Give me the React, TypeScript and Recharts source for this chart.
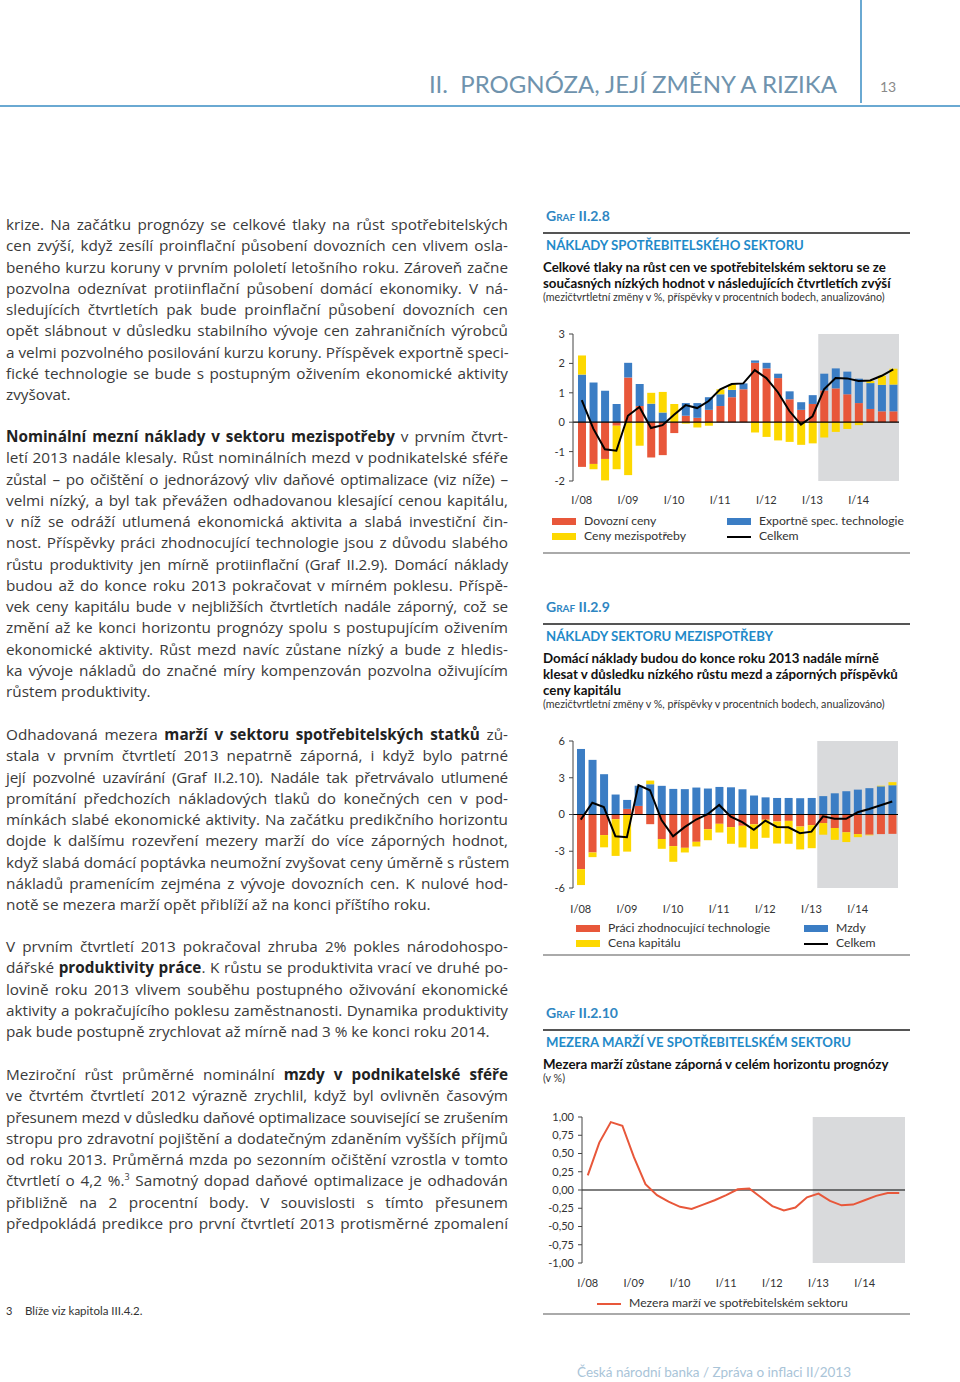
import React from 'react';
import {
    ComposedChart,
    Bar,
    Line,
    XAxis,
    YAxis,
    ReferenceArea,
    ReferenceLine,
} from 'recharts';

const quarters = [
    'I/08', 'II/08', 'III/08', 'IV/08',
    'I/09', 'II/09', 'III/09', 'IV/09',
    'I/10', 'II/10', 'III/10', 'IV/10',
    'I/11', 'II/11', 'III/11', 'IV/11',
    'I/12', 'II/12', 'III/12', 'IV/12',
    'I/13', 'II/13', 'III/13', 'IV/13',
    'I/14', 'II/14', 'III/14', 'IV/14',
];

// Graf II.2.8
const dovozniCeny = [-1.52, -1.42, -1.25, -0.12, 1.52, 0.55, -1.2, -1.12, -0.37, 0.22, 0.15, 0.42, 0.55, 0.85, 1.12, 2.02, 1.83, 1.5, 0.78, 0.42, 0.62, 1.08, 1.15, 0.95, 0.65, 0.45, 0.37, 0.37];
const exportTech = [1.62, 1.35, 1.07, 0.62, 0.5, 0.75, 0.63, 0.33, 0, 0.43, 0.5, 0.43, 0.4, 0.25, 0.2, 0.08, 0.19, 0.15, 0.27, 0.26, 0.3, 0.57, 0.68, 0.77, 0.83, 0.88, 0.9, 0.91];
const cenyMezispotreby = [0.65, -0.18, -0.73, -1.48, -1.8, -0.8, 0.37, 0.7, 0.62, -0.05, -0.18, -0.12, 0.17, 0.18, 0, -0.35, -0.5, -0.62, -0.67, -0.77, -0.72, -0.52, -0.33, -0.23, -0.1, 0.07, 0.31, 0.54];
const celkem1 = [0.75, -0.22, -0.92, -0.97, 0.22, 0.52, -0.2, -0.1, 0.25, 0.58, 0.48, 0.72, 1.12, 1.3, 1.32, 1.77, 1.5, 1.02, 0.38, -0.08, 0.2, 1.12, 1.5, 1.49, 1.4, 1.42, 1.58, 1.8];

// Graf II.2.9
const praciTech = [-4.46, -3.1, -1.68, -0.38, 0.46, 0.7, -0.79, -2.0, -2.58, -2.72, -2.23, -1.2, -0.76, -1.03, -0.92, -0.8, -0.43, -0.57, -0.52, -0.98, -0.87, -0.7, -1.1, -1.45, -1.6, -1.65, -1.6, -1.58];
const mzdy = [5.35, 4.46, 3.29, 1.63, 0.73, 1.65, 2.47, 2.34, 2.09, 2.07, 2.2, 2.12, 2.25, 2.22, 2.06, 1.55, 1.4, 1.35, 1.35, 1.33, 1.35, 1.5, 1.73, 1.9, 2.03, 2.15, 2.3, 2.39];
const cenaKapitalu = [-1.3, -0.38, -1.0, -3.0, -3.03, 0, 0.3, -0.8, -1.28, -0.38, -0.38, -0.9, -0.71, -1.36, -1.77, -2.0, -1.47, -1.8, -1.87, -1.87, -1.88, -0.95, -0.97, -0.8, -0.25, -0.05, 0.05, 0.25];
const celkem2 = [-0.42, 0.96, 0.6, -1.77, -1.85, 2.4, 1.98, -0.46, -1.78, -1.03, -0.41, 0.02, 0.78, -0.17, -0.63, -1.25, -0.5, -1.02, -1.04, -1.52, -1.4, -0.15, -0.35, -0.35, 0.18, 0.45, 0.75, 1.06];

// Graf II.2.10
const mezeraMarzi = [0.2, 0.65, 0.93, 0.88, 0.45, 0.08, -0.07, -0.16, -0.23, -0.26, -0.2, -0.14, -0.07, 0.01, 0.02, -0.1, -0.22, -0.28, -0.24, -0.1, -0.05, -0.15, -0.21, -0.2, -0.14, -0.08, -0.04, -0.04];

const ticks1 = [-2, -1, 0, 1, 2, 3];
const ticks2 = [-6, -3, 0, 3, 6];
const ticks3 = [-1, -0.75, -0.5, -0.25, 0, 0.25, 0.5, 0.75, 1];

const RED = '#e8573a';
const BLUE = '#3b7dc4';
const YELLOW = '#fdd800';
const SHADE = '#d9dadc';
const BODY_FONT = '"Open Sans", sans-serif';
const SIDE_FONT = 'Lato, "Open Sans", sans-serif';

const data1 = quarters.map((q, i) => ({
    q,
    dovozni: dovozniCeny[i],
    exportni: exportTech[i],
    mezi: cenyMezispotreby[i],
    celkem: celkem1[i],
}));
const data2 = quarters.map((q, i) => ({
    q,
    prace: praciTech[i],
    mzdy: mzdy[i],
    kapital: cenaKapitalu[i],
    celkem: celkem2[i],
}));
const data3 = quarters.map((q, i) => ({ q, mezera: mezeraMarzi[i] }));

const tickStyle = { fontSize: 11, fill: '#333', fontFamily: SIDE_FONT };

function TextLine({ children, justify = true }: { children: React.ReactNode; justify?: boolean }) {
    return (
        <div
            style={{
                height: 21.25,
                lineHeight: '21.25px',
                whiteSpace: 'nowrap',
                textAlign: justify ? 'justify' : 'left',
                textAlignLast: justify ? 'justify' : 'left',
            }}
        >
            {children}
        </div>
    );
}

function Para({ top, lines, lastJustified = false }: { top: number; lines: React.ReactNode[]; lastJustified?: boolean }) {
    return (
        <div
            style={{
                position: 'absolute',
                left: 6,
                top,
                width: 502,
                fontSize: 15.3,
                color: '#3a3a3a',
                fontFamily: BODY_FONT,
            }}
        >
            {lines.map((l, i) => (
                <TextLine key={i} justify={i < lines.length - 1 || lastJustified}>
                    {l}
                </TextLine>
            ))}
        </div>
    );
}

function GrafHeader({ y, graf, title, sub, note }: { y: number; graf: string; title: string; sub: string[]; note: string }) {
    return (
        <>
            <div
                style={{
                    position: 'absolute',
                    left: 546,
                    top: y - 9,
                    fontSize: 14,
                    fontWeight: 700,
                    fontVariant: 'small-caps',
                    color: '#2f86c2',
                    lineHeight: '18px',
                }}
            >
                {graf}
            </div>
            <div style={{ position: 'absolute', left: 543, top: y + 16, width: 367, height: 1.5, background: '#555' }} />
            <div
                style={{
                    position: 'absolute',
                    left: 546,
                    top: y + 20,
                    fontSize: 13.2,
                    fontWeight: 700,
                    color: '#1f8ac9',
                    lineHeight: '18px',
                    whiteSpace: 'nowrap',
                }}
            >
                {title}
            </div>
            {sub.map((s, i) => (
                <div
                    key={i}
                    style={{
                        position: 'absolute',
                        left: 543,
                        top: y + 43 + i * 16,
                        fontSize: 13.3,
                        fontWeight: 700,
                        color: '#111',
                        lineHeight: '16px',
                        whiteSpace: 'nowrap',
                    }}
                >
                    {s}
                </div>
            ))}
            <div
                style={{
                    position: 'absolute',
                    left: 543,
                    top: y + 43 + sub.length * 16 - 1,
                    fontSize: 10.7,
                    color: '#333',
                    lineHeight: '14px',
                    whiteSpace: 'nowrap',
                }}
            >
                {note}
            </div>
        </>
    );
}

function Swatch({ color, line = false }: { color: string; line?: boolean }) {
    return (
        <span
            style={{
                display: 'inline-block',
                width: 24,
                height: line ? 2 : 7,
                background: color,
                marginRight: 8,
                verticalAlign: 'middle',
            }}
        />
    );
}

function LegendItem({ x, y, color, label, line = false }: { x: number; y: number; color: string; label: string; line?: boolean }) {
    return (
        <div
            style={{
                position: 'absolute',
                left: x,
                top: y - 8,
                height: 16,
                lineHeight: '16px',
                fontSize: 12.2,
                color: '#333',
                whiteSpace: 'nowrap',
            }}
        >
            <Swatch color={color} line={line} />
            {label}
        </div>
    );
}

function Rule({ y }: { y: number }) {
    return <div style={{ position: 'absolute', left: 543, top: y, width: 367, height: 2, background: '#aaa' }} />;
}

function Chart1() {
    return (
        <div style={{ position: 'absolute', left: 540, top: 320 }}>
            <ComposedChart
                width={380}
                height={200}
                data={data1}
                stackOffset="sign"
                margin={{ top: 14, right: 21, bottom: 9, left: 0 }}
            >
                <ReferenceArea x1="II/13" x2="IV/14" fill={SHADE} fillOpacity={1} stroke="none" ifOverflow="visible" />
                <XAxis
                    dataKey="q"
                    interval={3}
                    axisLine={false}
                    tickLine={false}
                    tick={tickStyle}
                    tickMargin={9}
                    height={30}
                    padding={{ left: 3, right: 0 }}
                />
                <YAxis
                    type="number"
                    domain={[-2, 3]}
                    ticks={ticks1}
                    width={33}
                    tick={tickStyle}
                    tickSize={4}
                    tickMargin={4}
                    stroke="#444"
                    interval={0}
                />
                <Bar dataKey="dovozni" stackId="a" fill={RED} barSize={8} isAnimationActive={false} />
                <Bar dataKey="exportni" stackId="a" fill={BLUE} barSize={8} isAnimationActive={false} />
                <Bar dataKey="mezi" stackId="a" fill={YELLOW} barSize={8} isAnimationActive={false} />
                <ReferenceLine y={0} stroke="#000" strokeWidth={1.2} />
                <Line dataKey="celkem" stroke="#000" strokeWidth={2} dot={false} type="linear" isAnimationActive={false} />
            </ComposedChart>
        </div>
    );
}

function Chart2() {
    return (
        <div style={{ position: 'absolute', left: 540, top: 720 }}>
            <ComposedChart
                width={380}
                height={205}
                data={data2}
                stackOffset="sign"
                margin={{ top: 21, right: 22, bottom: 7, left: 0 }}
            >
                <ReferenceArea x1="II/13" x2="IV/14" fill={SHADE} fillOpacity={1} stroke="none" ifOverflow="visible" />
                <XAxis
                    dataKey="q"
                    interval={3}
                    axisLine={false}
                    tickLine={false}
                    tick={tickStyle}
                    tickMargin={11}
                    height={30}
                    padding={{ left: 2, right: 0 }}
                />
                <YAxis
                    type="number"
                    domain={[-6, 6]}
                    ticks={ticks2}
                    width={33}
                    tick={tickStyle}
                    tickSize={4}
                    tickMargin={4}
                    stroke="#444"
                    interval={0}
                />
                <Bar dataKey="prace" stackId="a" fill={RED} barSize={8} isAnimationActive={false} />
                <Bar dataKey="mzdy" stackId="a" fill={BLUE} barSize={8} isAnimationActive={false} />
                <Bar dataKey="kapital" stackId="a" fill={YELLOW} barSize={8} isAnimationActive={false} />
                <ReferenceLine y={0} stroke="#000" strokeWidth={1.2} />
                <Line dataKey="celkem" stroke="#000" strokeWidth={2} dot={false} type="linear" isAnimationActive={false} />
            </ComposedChart>
        </div>
    );
}

function Chart3() {
    return (
        <div style={{ position: 'absolute', left: 540, top: 1100 }}>
            <ComposedChart
                width={380}
                height={200}
                data={data3}
                margin={{ top: 17, right: 15, bottom: 7, left: 0 }}
            >
                <ReferenceArea x1="I/13" x2="IV/14" fill={SHADE} fillOpacity={1} stroke="none" ifOverflow="visible" />
                <XAxis
                    dataKey="q"
                    scale="band"
                    interval={3}
                    axisLine={false}
                    tickLine={false}
                    tick={tickStyle}
                    tickMargin={10}
                    height={30}
                />
                <YAxis
                    type="number"
                    domain={[-1, 1]}
                    ticks={ticks3}
                    width={42}
                    tick={tickStyle}
                    tickSize={4}
                    tickMargin={4}
                    stroke="#444"
                    interval={0}
                    tickFormatter={(v: number) => v.toFixed(2).replace('.', ',')}
                />
                <ReferenceLine y={0} stroke="#000" strokeWidth={1.2} />
                <Line dataKey="mezera" stroke={RED} strokeWidth={2} dot={false} type="linear" isAnimationActive={false} />
            </ComposedChart>
        </div>
    );
}

export default function App() {
    const b = (t: string) => <b style={{ color: '#222' }}>{t}</b>;
    const tight = (t: string) => <span style={{ letterSpacing: -0.2 }}>{t}</span>;
    return (
        <div
            style={{
                position: 'absolute',
                left: 0,
                top: 0,
                width: 960,
                height: 1382,
                background: '#fff',
                fontFamily: SIDE_FONT,
                overflow: 'hidden',
            }}
        >
            {/* page header */}
            <div
                style={{
                    position: 'absolute',
                    right: 960 - 837,
                    top: 69,
                    fontSize: 24,
                    color: '#6f93ad',
                    whiteSpace: 'nowrap',
                    lineHeight: '30px',
                }}
            >
                II.&nbsp; PROGNÓZA, JEJÍ ZMĚNY A RIZIKA
            </div>
            <div style={{ position: 'absolute', left: 860, top: 0, width: 1.5, height: 103, background: '#6aa9d2' }} />
            <div style={{ position: 'absolute', left: 880, top: 78, fontSize: 14, color: '#8a8a8a' }}>13</div>
            <div style={{ position: 'absolute', left: 0, top: 105, width: 960, height: 2, background: '#6aa9d2' }} />

            {/* left column text */}
            <Para
                top={214}
                lines={[
                    'krize. Na začátku prognózy se celkové tlaky na růst spotřebitelských',
                    'cen zvýší, když zesílí proinflační působení dovozních cen vlivem osla-',
                    'beného kurzu koruny v prvním pololetí letošního roku. Zároveň začne',
                    'pozvolna odeznívat protiinflační působení domácí ekonomiky. V ná-',
                    'sledujících čtvrtletích pak bude proinflační působení dovozních cen',
                    'opět slábnout v důsledku stabilního vývoje cen zahraničních výrobců',
                    'a velmi pozvolného posilování kurzu koruny. Příspěvek exportně speci-',
                    'fické technologie se bude s postupným oživením ekonomické aktivity',
                    'zvyšovat.',
                ]}
            />
            <Para
                top={426}
                lines={[
                    <>{b('Nominální mezní náklady v sektoru mezispotřeby')} v prvním čtvrt-</>,
                    'letí 2013 nadále klesaly. Růst nominálních mezd v podnikatelské sféře',
                    tight('zůstal – po očištění o jednorázový vliv daňové optimalizace (viz níže) –'),
                    'velmi nízký, a byl tak převážen odhadovanou klesající cenou kapitálu,',
                    'v níž se odráží utlumená ekonomická aktivita a slabá investiční čin-',
                    'nost. Příspěvky práci zhodnocující technologie jsou z důvodu slabého',
                    tight('růstu produktivity jen mírně protiinflační (Graf II.2.9). Domácí náklady'),
                    'budou až do konce roku 2013 pokračovat v mírném poklesu. Příspě-',
                    tight('vek ceny kapitálu bude v nejbližších čtvrtletích nadále záporný, což se'),
                    'změní až ke konci horizontu prognózy spolu s postupujícím oživením',
                    'ekonomické aktivity. Růst mezd navíc zůstane nízký a bude z hledis-',
                    'ka vývoje nákladů do značné míry kompenzován pozvolna oživujícím',
                    'růstem produktivity.',
                ]}
            />
            <Para
                top={724}
                lines={[
                    <>Odhadovaná mezera {b('marží v sektoru spotřebitelských statků')} zů-</>,
                    'stala v prvním čtvrtletí 2013 nepatrně záporná, i když bylo patrné',
                    tight('její pozvolné uzavírání (Graf II.2.10). Nadále tak přetrvávalo utlumené'),
                    'promítání předchozích nákladových tlaků do konečných cen v pod-',
                    'mínkách slabé ekonomické aktivity. Na začátku predikčního horizontu',
                    'dojde k dalšímu rozevření mezery marží do více záporných hodnot,',
                    'když slabá domácí poptávka neumožní zvyšovat ceny úměrně s růstem',
                    'nákladů pramenícím zejména z vývoje dovozních cen. K nulové hod-',
                    'notě se mezera marží opět přiblíží až na konci příštího roku.',
                ]}
            />
            <Para
                top={936}
                lines={[
                    'V prvním čtvrtletí 2013 pokračoval zhruba 2% pokles národohospo-',
                    <>dářské {b('produktivity práce')}. K růstu se produktivita vrací ve druhé po-</>,
                    'lovině roku 2013 vlivem souběhu postupného oživování ekonomické',
                    'aktivity a pokračujícího poklesu zaměstnanosti. Dynamika produktivity',
                    'pak bude postupně zrychlovat až mírně nad 3 % ke konci roku 2014.',
                ]}
            />
            <Para
                top={1064}
                lastJustified
                lines={[
                    <>Meziroční růst průměrné nominální {b('mzdy v podnikatelské sféře')}</>,
                    've čtvrtém čtvrtletí 2012 výrazně zrychlil, když byl ovlivněn časovým',
                    tight('přesunem mezd v důsledku daňové optimalizace související se zrušením'),
                    'stropu pro zdravotní pojištění a dodatečným zdaněním vyšších příjmů',
                    'od roku 2013. Průměrná mzda po sezonním očištění vzrostla v tomto',
                    <>čtvrtletí o 4,2 %.<span style={{ fontSize: 9, verticalAlign: 'super', lineHeight: 0 }}>3</span> Samotný dopad daňové optimalizace je odhadován</>,
                    'přibližně na 2 procentní body. V souvislosti s tímto přesunem',
                    'předpokládá predikce pro první čtvrtletí 2013 protisměrné zpomalení',
                ]}
            />

            {/* footnote */}
            <div style={{ position: 'absolute', left: 6, top: 1304, fontSize: 11, color: '#333' }}>3</div>
            <div style={{ position: 'absolute', left: 25, top: 1304, fontSize: 11.5, color: '#333' }}>
                Blíže viz kapitola III.4.2.
            </div>

            {/* Graf II.2.8 */}
            <GrafHeader
                y={216}
                graf="Graf II.2.8"
                title="NÁKLADY SPOTŘEBITELSKÉHO SEKTORU"
                sub={[
                    'Celkové tlaky na růst cen ve spotřebitelském sektoru se ze',
                    'současných nízkých hodnot v následujících čtvrtletích zvýší',
                ]}
                note="(mezičtvrtletní změny v %, příspěvky v procentních bodech, anualizováno)"
            />
            <Chart1 />
            <LegendItem x={552} y={521} color={RED} label="Dovozní ceny" />
            <LegendItem x={552} y={536} color={YELLOW} label="Ceny mezispotřeby" />
            <LegendItem x={727} y={521} color={BLUE} label="Exportně spec. technologie" />
            <LegendItem x={727} y={536} color="#000" label="Celkem" line />
            <Rule y={552} />

            {/* Graf II.2.9 */}
            <GrafHeader
                y={607}
                graf="Graf II.2.9"
                title="NÁKLADY SEKTORU MEZISPOTŘEBY"
                sub={[
                    'Domácí náklady budou do konce roku 2013 nadále mírně',
                    'klesat v důsledku nízkého růstu mezd a záporných příspěvků',
                    'ceny kapitálu',
                ]}
                note="(mezičtvrtletní změny v %, příspěvky v procentních bodech, anualizováno)"
            />
            <Chart2 />
            <LegendItem x={576} y={928} color={RED} label="Práci zhodnocující technologie" />
            <LegendItem x={576} y={943} color={YELLOW} label="Cena kapitálu" />
            <LegendItem x={804} y={928} color={BLUE} label="Mzdy" />
            <LegendItem x={804} y={943} color="#000" label="Celkem" line />
            <Rule y={954} />

            {/* Graf II.2.10 */}
            <GrafHeader
                y={1013}
                graf="Graf II.2.10"
                title="MEZERA MARŽÍ VE SPOTŘEBITELSKÉM SEKTORU"
                sub={['Mezera marží zůstane záporná v celém horizontu prognózy']}
                note="(v %)"
            />
            <Chart3 />
            <LegendItem x={597} y={1303} color={RED} label="Mezera marží ve spotřebitelském sektoru" line />
            <Rule y={1313} />

            {/* footer */}
            <div
                style={{
                    position: 'absolute',
                    left: 577,
                    top: 1364,
                    fontSize: 13.5,
                    color: '#a9c4d8',
                    whiteSpace: 'nowrap',
                }}
            >
                Česká národní banka / Zpráva o inflaci II/2013
            </div>
        </div>
    );
}
